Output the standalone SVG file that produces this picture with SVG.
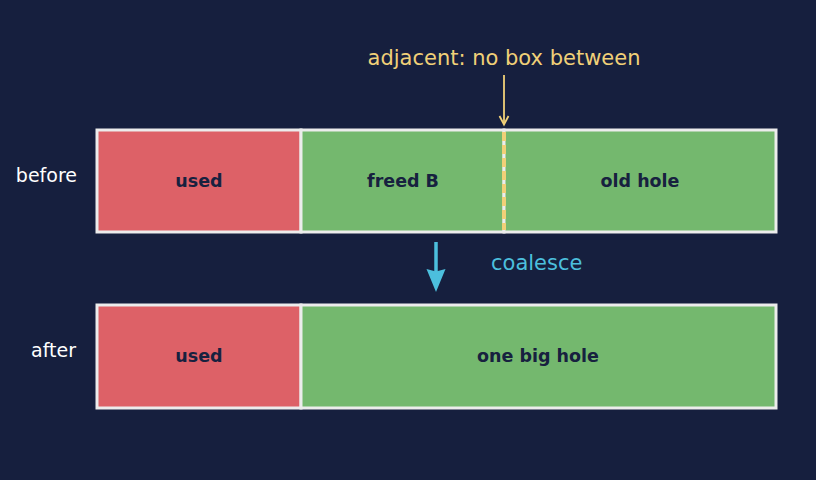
<svg xmlns="http://www.w3.org/2000/svg" width="816" height="480" viewBox="0 0 816 480">
<defs>
<style>
.seg{stroke:#ececec;stroke-width:3}
.used{fill:#dd6167}
.free{fill:#74b86e}
.lbl{font-family:"DejaVu Sans",sans-serif;font-size:17.5px;font-weight:bold;fill:#17213f;text-anchor:middle}
.row{font-family:"DejaVu Sans",sans-serif;font-size:19px;fill:#ffffff;text-anchor:end}
</style>
</defs>
<rect width="816" height="480" fill="#161f3e"/>
<text class="row" x="77" y="182">before</text>
<text class="row" x="76" y="357">after</text>
<g id="before-used"><rect class="seg used" x="97" y="130" width="204" height="102"/><text class="lbl" x="199" y="187">used</text></g>
<g id="before-freedB"><rect class="seg free" x="301" y="130" width="203" height="102"/><text class="lbl" x="403" y="187">freed B</text></g>
<g id="before-oldhole"><rect class="seg free" x="504" y="130" width="272" height="102"/><text class="lbl" x="640" y="187">old hole</text></g>
<g id="after-used"><rect class="seg used" x="97" y="305" width="204" height="103"/><text class="lbl" x="199" y="362">used</text></g>
<g id="after-bighole"><rect class="seg free" x="301" y="305" width="475" height="103"/><text class="lbl" x="538" y="362">one big hole</text></g>
<g id="annotation">
<text x="504" y="65" font-family="DejaVu Sans,sans-serif" font-size="21" fill="#f0d078" text-anchor="middle">adjacent: no box between</text>
<text x="491" y="270" font-family="DejaVu Sans,sans-serif" font-size="21" fill="#4cbfdd">coalesce</text>
</g>
<g id="connectors">
<line x1="504" y1="132" x2="504" y2="230" stroke="#f0d078" stroke-width="4" stroke-dasharray="9,4"/>
<line x1="504" y1="75" x2="504" y2="124" stroke="#f0d078" stroke-width="1.8"/>
<path d="M499.5,116 L504,124.5 L508.5,116" fill="none" stroke="#f0d078" stroke-width="1.8"/>
<line x1="436" y1="242" x2="436" y2="272" stroke="#4cbfdd" stroke-width="3.5"/>
<polygon points="426.5,269 436,271.5 445.5,269 436,292" fill="#4cbfdd"/>
</g>
</svg>
